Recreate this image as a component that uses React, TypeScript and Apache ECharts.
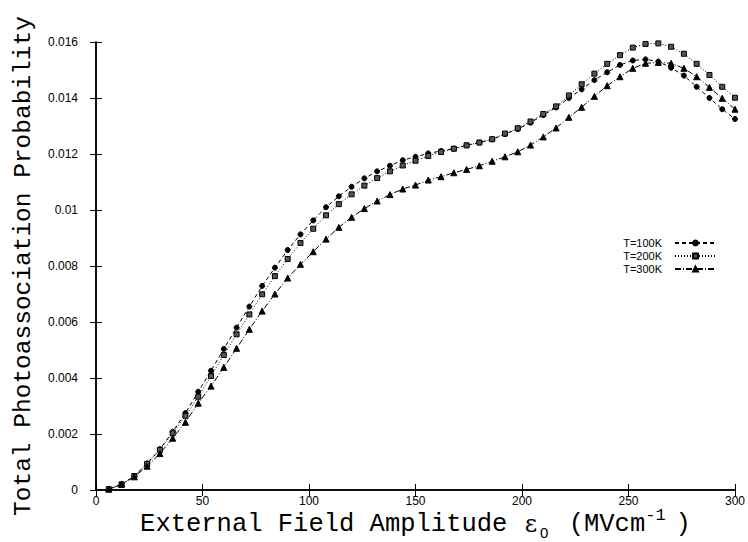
import React, { useEffect, useRef } from "react";
import * as echarts from "echarts";

const xs = [6, 12, 18, 24, 30, 36, 42, 48, 54, 60, 66, 72, 78, 84, 90, 96, 102, 108, 114, 120, 126, 132, 138, 144, 150, 156, 162, 168, 174, 180, 186, 192, 198, 204, 210, 216, 222, 228, 234, 240, 246, 252, 258, 264, 270, 276, 282, 288, 294, 300];

const t100 = [0.00003, 0.0002, 0.0005, 0.00095, 0.00146, 0.00208, 0.00275, 0.00351, 0.00426, 0.00504, 0.0058, 0.00655, 0.00729, 0.00794, 0.00857, 0.00913, 0.00963, 0.0101, 0.01049, 0.01083, 0.01113, 0.01138, 0.01158, 0.01178, 0.0119, 0.01202, 0.01211, 0.01219, 0.01231, 0.01241, 0.01252, 0.01271, 0.01289, 0.01312, 0.01339, 0.01366, 0.014, 0.01431, 0.01464, 0.01492, 0.01518, 0.01534, 0.01538, 0.0153, 0.01508, 0.0148, 0.0144, 0.014, 0.0136, 0.01325];

const t200 = [0.00003, 0.0002, 0.0005, 0.00093, 0.00143, 0.00203, 0.00265, 0.00333, 0.00407, 0.00482, 0.00556, 0.00627, 0.00699, 0.00764, 0.00825, 0.00882, 0.00933, 0.00981, 0.01021, 0.01056, 0.01087, 0.01114, 0.01138, 0.01159, 0.01176, 0.01193, 0.01207, 0.01219, 0.01231, 0.01241, 0.01253, 0.01273, 0.01292, 0.01316, 0.01343, 0.0137, 0.01409, 0.01449, 0.01487, 0.01522, 0.01553, 0.0158, 0.01593, 0.01595, 0.01583, 0.01558, 0.01522, 0.01482, 0.0144, 0.01401];

const t300 = [0.00003, 0.0002, 0.00047, 0.00085, 0.0013, 0.00185, 0.00242, 0.0031, 0.00371, 0.00438, 0.00506, 0.00574, 0.00639, 0.007, 0.00757, 0.00806, 0.00851, 0.00896, 0.00938, 0.00974, 0.01005, 0.01032, 0.01055, 0.01075, 0.01089, 0.01107, 0.01119, 0.01133, 0.01145, 0.01158, 0.01174, 0.0119, 0.01208, 0.01232, 0.01261, 0.01293, 0.01331, 0.01367, 0.01406, 0.01444, 0.01476, 0.01506, 0.01524, 0.01527, 0.01524, 0.01506, 0.01476, 0.01438, 0.01399, 0.0136];

const seriesNames = ["T=100K", "T=200K", "T=300K"];
const xTicks = [0, 50, 100, 150, 200, 250, 300];
const yTicks = [0, 0.002, 0.004, 0.006, 0.008, 0.01, 0.012, 0.014, 0.016];

export default function App() {
  const ref = useRef<HTMLDivElement>(null);
  useEffect(() => {
    if (!ref.current) return;
    const chart = echarts.init(ref.current, null, { renderer: "svg" });
    const tickFont = { fontFamily: "Liberation Sans", fontSize: 12, color: "#000" };
    const axisLine = { show: true, lineStyle: { color: "#000", width: 1.5 } };
    const axisTick = { show: true, inside: true, length: 6, lineStyle: { color: "#000", width: 1 } };
    const mk = (name: string, ys: number[], symbol: string, size: number, dash: any, fill: string) => ({
      name,
      type: "line",
      data: xs.map((x, i) => [x, ys[i]]),
      symbol,
      symbolSize: size,
      showSymbol: true,
      smooth: false,
      itemStyle: { color: fill, borderColor: "#000", borderWidth: 1 },
      lineStyle: { color: "#000", width: 1, type: dash },
      emphasis: { disabled: true },
    });
    chart.setOption({
      animation: false,
      backgroundColor: "#fff",
      grid: { left: 96, right: 13, top: 42, bottom: 52, containLabel: false, outerBoundsMode: "none" },
      legend: {
        data: seriesNames,
        orient: "vertical",
        right: 31,
        top: 237,
        padding: 0,
        align: "right",
        itemWidth: 41,
        itemHeight: 6,
        itemGap: 1,
        textStyle: { fontFamily: "Liberation Sans", fontSize: 11, color: "#000", lineHeight: 12, padding: [0, 8, 0, 0] },
      },
      xAxis: [
        {
          type: "value",
          min: xTicks[0],
          max: xTicks[xTicks.length - 1],
          interval: 50,
          axisLine,
          axisTick,
          splitLine: { show: false },
          axisLabel: { ...tickFont, margin: 5 },
          name: "External Field Amplitude {e|ε}{sub|0} (MVcm{sup|-1})",
          nameLocation: "middle",
          nameGap: 21,
          nameMoveOverlap: false,
          nameTextStyle: {
            fontFamily: "Liberation Mono",
            fontSize: 25.5,
            lineHeight: 26,
            color: "#000",
            rich: {
              e: { fontFamily: "DejaVu Serif", fontSize: 24, lineHeight: 26, color: "#000", padding: [0, 0, 0, 2] },
              sub: { fontFamily: "Liberation Sans", fontSize: 15, lineHeight: 15, color: "#000", padding: [16, 5, 0, 3] },
              sup: { fontFamily: "Liberation Mono", fontSize: 17, lineHeight: 17, color: "#000", padding: [0, 10, 18, 0] },
            },
          },
        },
        {
          type: "value",
          position: "top",
          min: 0,
          max: 300,
          interval: 50,
          axisLine,
          axisTick,
          axisLabel: { show: false },
          splitLine: { show: false },
        },
      ],
      yAxis: [
        {
          type: "value",
          min: yTicks[0],
          max: yTicks[yTicks.length - 1],
          interval: 0.002,
          axisLine,
          axisTick,
          splitLine: { show: false },
          axisLabel: { ...tickFont, margin: 18 },
          name: "Total Photoassociation Probability",
          nameLocation: "middle",
          nameGap: 60,
          nameMoveOverlap: false,
          nameTextStyle: { fontFamily: "Liberation Mono", fontSize: 24.5, color: "#000" },
        },
        {
          type: "value",
          position: "right",
          min: 0,
          max: 0.016,
          interval: 0.002,
          axisLine,
          axisTick,
          axisLabel: { show: false },
          splitLine: { show: false },
        },
      ],
      series: [
        mk(seriesNames[0], t100, "circle", 5, [4, 3], "#000"),
        mk(seriesNames[1], t200, "rect", 5, [1, 2], "#555"),
        mk(seriesNames[2], t300, "triangle", 6, [6, 2, 1, 2], "#000"),
      ],
    });
    return () => chart.dispose();
  }, []);
  return <div ref={ref} style={{ position: "fixed", left: 0, top: 0, width: 748, height: 542 }} />;
}
